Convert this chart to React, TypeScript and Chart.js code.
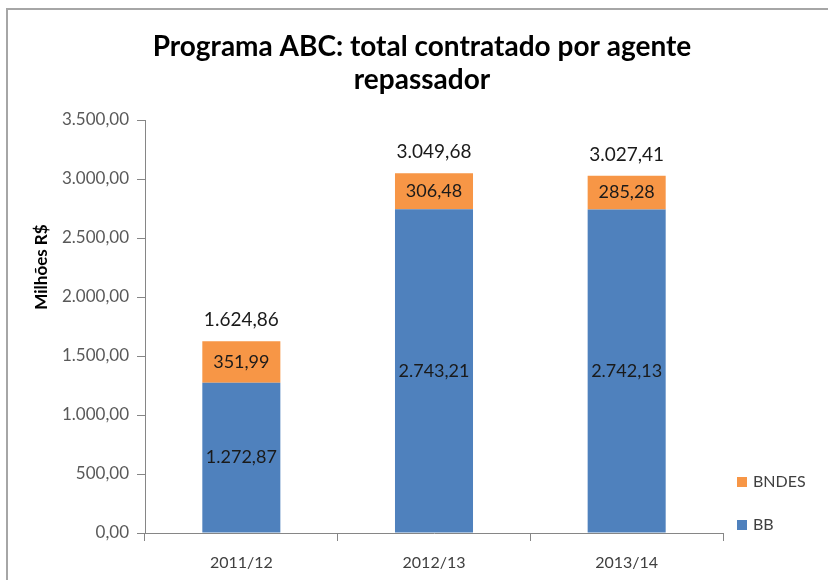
import React, { useEffect, useRef } from "react";
import { Chart, registerables } from "chart.js";

Chart.register(...registerables);

const categories = ["2011/12", "2012/13", "2013/14"];
const bbValues = [1272.87, 2743.21, 2742.13];
const bndesValues = [351.99, 306.48, 285.28];
const totalValues = [1624.86, 3049.68, 3027.41];
const seriesNames = ["BB", "BNDES"];
const seriesColors = ["#4F81BD", "#F79646"];
const titleLines = ["Programa ABC: total contratado por agente", "repassador"];
const yAxisTitle = "Milhões R$";
const yMin = 0;
const yMax = 3500;
const yStep = 500;

const FONT = "Lato, 'Open Sans', sans-serif";

function fmt(v: number): string {
  const [i, d] = v.toFixed(2).split(".");
  return i.replace(/\B(?=(\d{3})+(?!\d))/g, ".") + "," + d;
}

const decorPlugin = {
  id: "decor",
  beforeDraw(chart: any) {
    const ctx = chart.ctx;
    ctx.save();
    ctx.fillStyle = "#ffffff";
    ctx.fillRect(0, 0, chart.width, chart.height);
    ctx.strokeStyle = "#a6a6a6";
    ctx.lineWidth = 2;
    ctx.beginPath();
    ctx.moveTo(7, chart.height);
    ctx.lineTo(7, 9);
    ctx.lineTo(chart.width, 9);
    ctx.stroke();
    ctx.restore();
  },
  afterDraw(chart: any) {
    const ctx = chart.ctx;
    const area = chart.chartArea;

    // title
    ctx.save();
    ctx.font = `bold 28px ${FONT}`;
    ctx.fillStyle = "#000000";
    ctx.textAlign = "center";
    ctx.textBaseline = "middle";
    titleLines.forEach((line, i) => {
      ctx.fillText(line, 422, 47 + i * 33);
    });
    ctx.restore();

    // y axis title
    ctx.save();
    ctx.translate(42, 267);
    ctx.rotate(-Math.PI / 2);
    ctx.font = `bold 17px ${FONT}`;
    ctx.fillStyle = "#000000";
    ctx.textAlign = "center";
    ctx.textBaseline = "middle";
    ctx.fillText(yAxisTitle, 0, 0);
    ctx.restore();

    // data labels inside segments
    ctx.save();
    ctx.textAlign = "center";
    ctx.textBaseline = "middle";
    ctx.font = `18px ${FONT}`;
    ctx.fillStyle = "#1a1a1a";
    chart.data.datasets.forEach((ds: any, di: number) => {
      const meta = chart.getDatasetMeta(di);
      meta.data.forEach((bar: any, i: number) => {
        const y = (bar.y + bar.base) / 2;
        ctx.fillText(fmt(ds.data[i]), bar.x, y);
      });
    });
    // totals
    const lastMeta = chart.getDatasetMeta(chart.data.datasets.length - 1);
    ctx.font = `19px ${FONT}`;
    ctx.fillStyle = "#1a1a1a";
    lastMeta.data.forEach((bar: any, i: number) => {
      ctx.fillText(fmt(totalValues[i]), bar.x, bar.y - 21);
    });
    ctx.restore();

    // legend (reverse order)
    ctx.save();
    ctx.font = `16px ${FONT}`;
    ctx.textBaseline = "middle";
    ctx.textAlign = "left";
    const n = chart.data.datasets.length;
    const bottomY = area.bottom - 8;
    const gap = 43;
    for (let k = 0; k < n; k++) {
      const di = n - 1 - k;
      const ds = chart.data.datasets[di];
      const y = bottomY - (n - 1 - k) * gap;
      ctx.fillStyle = ds.backgroundColor;
      ctx.fillRect(area.right + 14, y - 5, 10, 10);
      ctx.fillStyle = "#404040";
      ctx.fillText(ds.label, area.right + 30, y);
    }
    ctx.restore();
  },
};

export default function App() {
  const ref = useRef<HTMLCanvasElement | null>(null);
  useEffect(() => {
    if (!ref.current) return;
    const chart = new Chart(ref.current, {
      type: "bar",
      data: {
        labels: categories,
        datasets: [
          {
            label: seriesNames[0],
            data: bbValues,
            backgroundColor: seriesColors[0],
            barPercentage: 0.405,
            categoryPercentage: 1,
          },
          {
            label: seriesNames[1],
            data: bndesValues,
            backgroundColor: seriesColors[1],
            barPercentage: 0.405,
            categoryPercentage: 1,
          },
        ],
      },
      options: {
        responsive: false,
        animation: false,
        layout: { padding: { left: 16, right: 105, top: 120, bottom: 0 } },
        plugins: {
          legend: { display: false },
          tooltip: { enabled: false },
          title: { display: false },
        },
        scales: {
          x: {
            stacked: true,
            offset: true,
            afterFit: (s: any) => {
              s.height = 47;
            },
            grid: {
              drawOnChartArea: false,
              offset: true,
              tickLength: 8,
              color: "#868686",
            },
            border: { color: "#868686" },
            ticks: {
              color: "#404040",
              font: { family: FONT, size: 16 },
              padding: 12,
            },
          },
          y: {
            stacked: true,
            min: yMin,
            max: yMax,
            afterFit: (s: any) => {
              s.width = 129;
            },
            grid: {
              drawOnChartArea: false,
              tickLength: 8,
              color: "#868686",
            },
            border: { color: "#868686" },
            ticks: {
              stepSize: yStep,
              color: "#595959",
              font: { family: FONT, size: 17 },
              padding: 8,
              callback: (v: any) => fmt(Number(v)),
            },
          },
        },
      },
      plugins: [decorPlugin],
    } as any);
    return () => chart.destroy();
  }, []);
  return (
    <div style={{ position: "absolute", left: 0, top: 0, width: 828, height: 580 }}>
      <canvas ref={ref} width={828} height={580} />
    </div>
  );
}
